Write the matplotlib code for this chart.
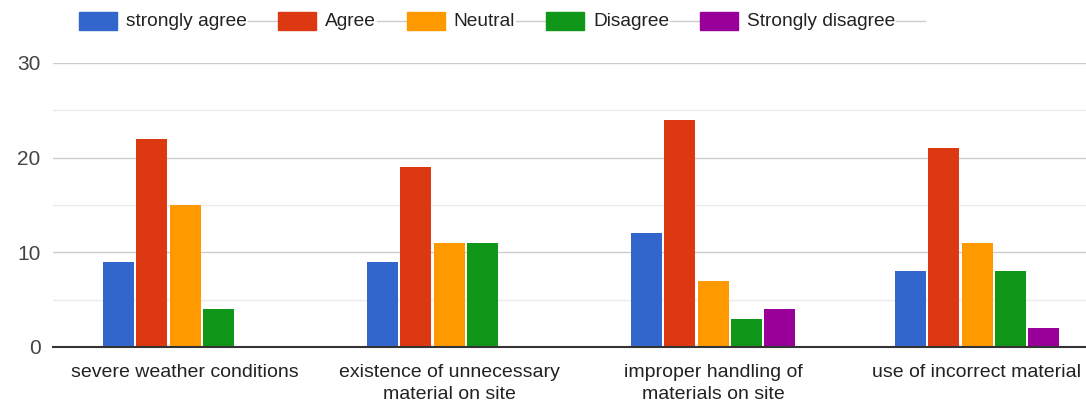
import matplotlib
matplotlib.use("Agg")
import matplotlib.pyplot as plt
import numpy as np
from matplotlib.patches import Rectangle
from matplotlib.lines import Line2D

categories = ["severe weather conditions", "existence of unnecessary\nmaterial on site",
              "improper handling of\nmaterials on site", "use of incorrect material"]
series_names = ["strongly agree", "Agree", "Neutral", "Disagree", "Strongly disagree"]
strongly_agree = [9, 9, 12, 8]
agree = [22, 19, 24, 21]
neutral = [15, 11, 7, 11]
disagree = [4, 11, 3, 8]
strongly_disagree = [0, 0, 4, 2]
colors = ["#3366cc", "#dc3912", "#ff9900", "#109618", "#990099"]
yticks = [0, 10, 20, 30]
yminor = [5, 15, 25]

plt.rcParams['font.family'] = ['Liberation Sans', 'DejaVu Sans']

W, H = 1086, 404
fig = plt.figure(figsize=(W / 100, H / 100), dpi=100)
left_px = 53
ax = fig.add_axes([left_px / W, (H - 347) / H, (W - left_px) / W, (347 - 63) / H])

values = [strongly_agree, agree, neutral, disagree, strongly_disagree]
x = np.arange(len(categories))
group_px = 264.0
step = 33.25 / group_px
for i, (vals, c) in enumerate(zip(values, colors)):
    ax.bar(x + (i - 2) * step, vals, width=31 / group_px, color=c, zorder=3)

ax.set_xlim(-0.5, -0.5 + (W - left_px) / group_px)
ax.set_ylim(0, 30)
ax.set_yticks(yticks)
ax.set_yticks(yminor, minor=True)
ax.set_yticklabels([str(v) for v in yticks], fontsize=15, color="#444444")
ax.set_xticks(x)
ax.set_xticklabels(categories, fontsize=14, color="#222222", linespacing=1.42)
ax.tick_params(axis="both", which="both", length=0)
ax.tick_params(axis="y", pad=9)
ax.tick_params(axis="x", pad=12)
ax.grid(axis="y", which="major", color="#cccccc", linewidth=1, zorder=0)
ax.grid(axis="y", which="minor", color="#ebebeb", linewidth=1, zorder=0)
for s in ["top", "right", "left"]:
    ax.spines[s].set_visible(False)
ax.spines["bottom"].set_color("#333333")
ax.spines["bottom"].set_linewidth(1.5)
ax.spines["bottom"].set_zorder(4)

# custom Google-style legend
renderer = fig.canvas.get_renderer()
ly = 1 - 21 / H
px = 79
pw, ph = 38, 17
gap_text = 9
gap_line = 31
for name, c in zip(series_names, colors):
    fig.patches.append(Rectangle((px / W, ly - ph / 2 / H), pw / W, ph / H,
                                 transform=fig.transFigure, color=c, zorder=3))
    tx = px + pw + gap_text
    t = fig.text(tx / W, ly, name, fontsize=13.8, color="#222222", va="center", ha="left")
    bb = t.get_window_extent(renderer)
    tend = bb.x1
    fig.lines.append(Line2D([(tend + 1) / W, (tend + gap_line - 1) / W], [ly, ly],
                            transform=fig.transFigure, color="#cccccc", linewidth=1))
    px = tend + gap_line

fig.savefig("out.png", dpi=100, facecolor="white")
